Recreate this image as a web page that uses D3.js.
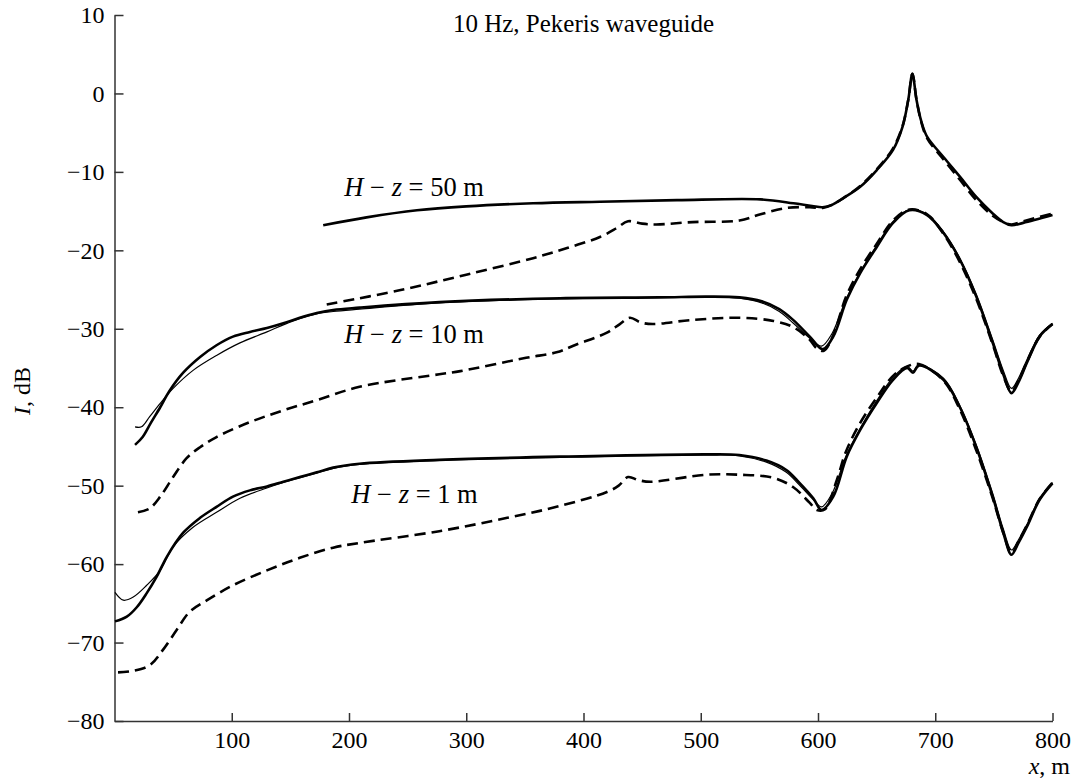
<!DOCTYPE html>
<html>
<head>
<meta charset="utf-8">
<script src="https://cdn.jsdelivr.net/npm/d3@7"></script>
<style>
  body { margin: 0; background: #fff; }
  svg { display: block; font-family: "Liberation Serif", "DejaVu Serif", serif; }
  .axis path, .axis line { stroke: #333; stroke-width: 1.5; }
  .axis text { fill: #000; }
  .curve { fill: none; stroke: #000; stroke-linejoin: round; }
</style>
</head>
<body>
<div id="chart"></div>
<script>
// H - z = 50 m
const thick50 = [[178,-16.8],[215,-15.8],[258,-14.9],[300,-14.4],[357,-14.0],[414,-13.8],[480,-13.6],[551,-13.5],[579,-14.0],[595,-14.35],[604,-14.5],[612,-14.2],[621,-13.4],[636,-11.9],[650,-9.8],[664,-7.2],[672,-4.3],[677,-0.8],[680.5,2.5],[684,-0.8],[688,-3.5],[693,-5.5],[707,-8.1],[721,-10.6],[735,-13.2],[749,-15.3],[758,-16.4],[765,-16.8],[775,-16.5],[800,-15.5]];
const dash50 = [[181,-26.9],[243,-25.1],[300,-23.1],[357,-21.0],[386,-19.7],[414,-18.3],[428,-17.2],[438,-16.3],[450,-16.6],[462,-16.7],[493,-16.4],[533,-16.2],[551,-15.4],[573,-14.6],[593,-14.5],[604,-14.6],[612,-14.2],[621,-13.4],[636,-11.8],[650,-9.7],[664,-7.0],[672,-4.2],[677,-0.8],[680.5,2.5],[684,-0.8],[688,-3.6],[693,-5.7],[707,-8.4],[721,-11.0],[735,-13.6],[749,-15.6],[758,-16.4],[765,-16.7],[775,-16.3],[800,-15.3]];

// H - z = 10 m
const thick10 = [[17.5,-44.8],[24,-43.8],[31,-42.0],[39,-40.0],[47,-37.9],[58.6,-35.6],[73,-33.6],[87,-32.1],[101,-31.0],[115.5,-30.4],[130,-29.9],[144,-29.3],[158,-28.6],[172.5,-28.0],[186.5,-27.6],[209,-27.3],[277,-26.6],[380,-26.1],[465,-26.0],[505,-25.9],[533,-26.0],[552,-26.5],[567,-27.5],[579,-28.9],[593,-31.0],[604,-32.6],[613,-31.0],[624.5,-26.3],[636,-22.9],[650,-19.6],[664,-16.5],[678,-14.9],[693,-15.5],[707,-17.8],[721,-21.2],[735,-25.9],[749,-31.8],[758,-35.8],[765,-38.2],[771,-36.8],[778,-34.4],[789,-31.0],[800,-29.4]];
const thin10 = [[17.5,-42.5],[23,-42.5],[30,-41.2],[39,-39.5],[50,-37.6],[67,-35.3],[87,-33.4],[107,-31.8],[130,-30.4],[144,-29.5],[158,-28.7],[172.5,-28.1],[186.5,-27.8],[209,-27.5],[277,-26.7],[380,-26.2],[465,-26.0],[505,-25.95],[533,-26.1],[552,-26.7],[567,-27.8],[579,-29.3],[593,-31.2],[603,-32.2],[612,-30.6],[624,-26.2],[636,-22.8],[650,-19.4],[664,-16.3],[678,-14.8],[693,-15.4],[707,-17.6],[721,-21.0],[735,-25.6],[749,-31.4],[758,-35.3],[765,-37.6],[771,-36.3],[778,-34.0],[789,-30.8],[800,-29.3]];
const dash10 = [[20,-53.4],[30,-52.9],[39,-51.4],[50,-48.9],[61.5,-46.5],[73,-45.1],[87,-43.8],[115.5,-41.9],[144,-40.4],[172.5,-39.1],[209,-37.4],[277,-35.8],[295,-35.4],[351,-33.7],[377,-33.0],[394,-32.0],[420,-30.5],[431,-29.4],[439.5,-28.6],[449,-29.2],[459,-29.4],[491,-28.9],[533,-28.6],[562,-29.0],[579,-29.8],[593,-31.4],[599,-32.5],[605,-32.8],[613,-30.8],[624,-25.9],[636,-22.4],[650,-19.2],[664,-16.2],[678,-14.8],[693,-15.4],[707,-17.9],[721,-21.5],[735,-26.2],[749,-32.0],[758,-36.0],[765,-38.0],[771,-36.6],[778,-34.3],[789,-31.0],[800,-29.4]];

// H - z = 1 m
const thick1 = [[0.4,-67.3],[10.5,-66.7],[19,-65.5],[27.5,-63.7],[36,-61.6],[44.5,-59.1],[58.6,-56.0],[73,-54.1],[87,-52.7],[101,-51.4],[115.5,-50.6],[130,-50.1],[144,-49.5],[158,-48.9],[172.5,-48.3],[186.5,-47.7],[209,-47.2],[277,-46.7],[380,-46.3],[505,-46.0],[533,-46.1],[556,-46.8],[573,-48.0],[584,-49.6],[596,-51.6],[603,-53.1],[613,-51.4],[624.5,-46.3],[636,-42.9],[650,-39.5],[664,-36.5],[676,-35.0],[681,-35.6],[686,-34.7],[707,-36.5],[721,-40.0],[735,-45.1],[749,-51.4],[758,-56.0],[765,-58.8],[771,-57.3],[778,-55.3],[789,-51.8],[800,-49.7]];
const thin1 = [[0.4,-63.6],[7.5,-64.6],[16,-64.2],[27.5,-62.7],[39,-60.8],[50,-57.8],[67,-55.3],[87,-53.4],[107,-51.6],[130,-50.3],[144,-49.6],[158,-49.0],[172.5,-48.4],[186.5,-47.8],[209,-47.3],[277,-46.8],[380,-46.4],[505,-46.1],[533,-46.2],[556,-47.0],[573,-48.3],[584,-49.9],[596,-51.8],[603,-52.7],[612,-51.0],[624,-46.2],[636,-42.7],[650,-39.2],[664,-36.2],[676,-34.8],[681,-35.4],[686,-34.6],[707,-36.3],[721,-39.8],[735,-44.8],[749,-51.0],[758,-55.5],[765,-58.2],[771,-56.9],[778,-55.0],[789,-51.6],[800,-49.6]];
const dash1 = [[3,-73.8],[16,-73.6],[30,-72.9],[41,-71.0],[53,-68.4],[64,-66.1],[79,-64.6],[101,-62.7],[130,-60.8],[158,-59.2],[186.5,-57.9],[209,-57.3],[277,-55.8],[335,-54.1],[377,-52.7],[420,-50.8],[430,-50.0],[438,-48.9],[447,-49.3],[457,-49.5],[505,-48.6],[533,-48.6],[562,-49.0],[579,-50.2],[593,-52.2],[599,-53.1],[606,-53.0],[616,-49.3],[624,-45.6],[636,-42.0],[650,-38.8],[664,-36.0],[676,-34.8],[686,-34.5],[707,-36.6],[721,-40.3],[735,-45.5],[749,-51.6],[758,-56.0],[765,-58.6],[771,-57.1],[778,-55.1],[789,-51.7],[800,-49.6]];

const xTicks = [100, 200, 300, 400, 500, 600, 700, 800];
const yTicks = [10, 0, -10, -20, -30, -40, -50, -60, -70, -80];

const labels = [
  { x: 196, y: -13.1, dz: '50' },
  { x: 196, y: -31.8, dz: '10' },
  { x: 202, y: -52.2, dz: '1' }
];

const series = [
  { data: thick50, kind: 'thick' }, { data: dash50, kind: 'dash' },
  { data: thin10, kind: 'thin' }, { data: thick10, kind: 'thick' }, { data: dash10, kind: 'dash' },
  { data: thin1, kind: 'thin' }, { data: thick1, kind: 'thick' }, { data: dash1, kind: 'dash' }
];

const FONT = '"Liberation Serif", "DejaVu Serif", serif';
const width = 1075, height = 780;
const margin = { left: 114.5, right: 22.5, top: 15, bottom: 59 };

const svg = d3.select('#chart').append('svg')
  .attr('width', width)
  .attr('height', height);

const x = d3.scaleLinear().domain([0, 800]).range([margin.left, width - margin.right]);
const y = d3.scaleLinear().domain([-80, 10]).range([height - margin.bottom, margin.top]);

svg.append('g')
  .attr('class', 'axis')
  .attr('transform', `translate(0,${y(-80)})`)
  .call(d3.axisBottom(x).tickValues(xTicks).tickSize(-8).tickSizeOuter(0).tickPadding(10))
  .attr('font-family', FONT)
  .attr('font-size', 24);

svg.append('g')
  .attr('class', 'axis')
  .attr('transform', `translate(${x(0)},0)`)
  .call(d3.axisLeft(y).tickValues(yTicks).tickSize(-9).tickSizeOuter(0).tickPadding(10))
  .attr('font-family', FONT)
  .attr('font-size', 24);

const line = d3.line()
  .x(d => x(d[0]))
  .y(d => y(d[1]))
  .curve(d3.curveCatmullRom.alpha(0.5));

svg.append('g').selectAll('path')
  .data(series)
  .join('path')
  .attr('class', 'curve')
  .attr('d', d => line(d.data))
  .attr('stroke-width', d => d.kind === 'thin' ? 1.2 : 2.6)
  .attr('stroke-dasharray', d => d.kind === 'dash' ? '11,6' : null);

// curve labels
const lab = svg.append('g').attr('font-size', 26.5);
labels.forEach(l => {
  const t = lab.append('text').attr('x', x(l.x)).attr('y', y(l.y));
  t.append('tspan').attr('font-style', 'italic').text('H');
  t.append('tspan').text(' \u2212 ');
  t.append('tspan').attr('font-style', 'italic').text('z');
  t.append('tspan').text(` = ${l.dz} m`);
});

svg.append('text')
  .attr('x', 583.5)
  .attr('y', 32)
  .attr('text-anchor', 'middle')
  .attr('font-size', 25)
  .text('10 Hz, Pekeris waveguide');

// axis titles
const yl = svg.append('text')
  .attr('transform', 'translate(30,391) rotate(-90)')
  .attr('text-anchor', 'middle')
  .attr('font-size', 24);
yl.append('tspan').attr('font-style', 'italic').text('I');
yl.append('tspan').text(', dB');

const xl = svg.append('text')
  .attr('x', 1070)
  .attr('y', 774)
  .attr('text-anchor', 'end')
  .attr('font-size', 24);
xl.append('tspan').attr('font-style', 'italic').text('x');
xl.append('tspan').text(', m');
</script>
</body>
</html>
